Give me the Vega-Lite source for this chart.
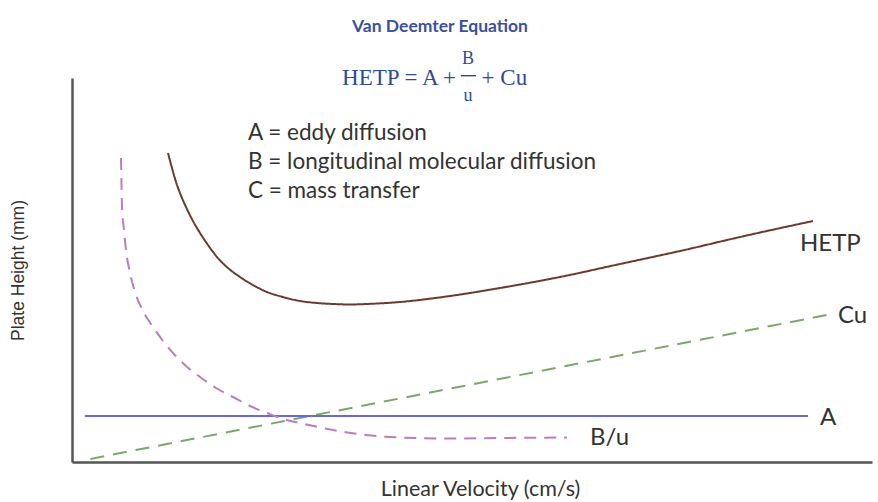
{
  "$schema": "https://vega.github.io/schema/vega-lite/v6.json",
  "width": 800,
  "height": 384,
  "autosize": "none",
  "padding": {"left": 72, "top": 78, "right": 6, "bottom": 40},
  "background": "white",
  "config": {"view": {"stroke": null}},
  "datasets": {
    "curves": [
      {"series": "HETP", "u": 12.0, "h": 80.47},
      {"series": "HETP", "u": 12.5, "h": 76.56},
      {"series": "HETP", "u": 13.0, "h": 72.92},
      {"series": "HETP", "u": 13.5, "h": 70.05},
      {"series": "HETP", "u": 14.25, "h": 66.41},
      {"series": "HETP", "u": 15.125, "h": 62.76},
      {"series": "HETP", "u": 16.0, "h": 59.64},
      {"series": "HETP", "u": 17.0, "h": 56.51},
      {"series": "HETP", "u": 18.125, "h": 53.39},
      {"series": "HETP", "u": 19.5, "h": 50.52},
      {"series": "HETP", "u": 21.0, "h": 48.18},
      {"series": "HETP", "u": 22.625, "h": 46.09},
      {"series": "HETP", "u": 24.375, "h": 44.27},
      {"series": "HETP", "u": 26.375, "h": 42.97},
      {"series": "HETP", "u": 28.5, "h": 41.93},
      {"series": "HETP", "u": 30.625, "h": 41.41},
      {"series": "HETP", "u": 32.625, "h": 41.15},
      {"series": "HETP", "u": 34.75, "h": 41.02},
      {"series": "HETP", "u": 36.875, "h": 41.15},
      {"series": "HETP", "u": 41.0, "h": 41.67},
      {"series": "HETP", "u": 47.25, "h": 43.23},
      {"series": "HETP", "u": 53.5, "h": 45.31},
      {"series": "HETP", "u": 61.0, "h": 48.18},
      {"series": "HETP", "u": 68.5, "h": 51.56},
      {"series": "HETP", "u": 76.0, "h": 54.95},
      {"series": "HETP", "u": 83.5, "h": 58.59},
      {"series": "HETP", "u": 92.625, "h": 62.76},
      {"series": "Cu", "u": 2.3, "h": 0.8},
      {"series": "Cu", "u": 94.4, "h": 38.3},
      {"series": "A", "u": 1.6, "h": 12.0},
      {"series": "A", "u": 92.0, "h": 12.0},
      {"series": "B/u", "u": 6.125, "h": 79.17},
      {"series": "B/u", "u": 6.19, "h": 72.14},
      {"series": "B/u", "u": 6.25, "h": 66.41},
      {"series": "B/u", "u": 6.5, "h": 60.42},
      {"series": "B/u", "u": 6.75, "h": 55.21},
      {"series": "B/u", "u": 7.25, "h": 49.22},
      {"series": "B/u", "u": 7.875, "h": 44.27},
      {"series": "B/u", "u": 8.625, "h": 40.36},
      {"series": "B/u", "u": 9.375, "h": 37.5},
      {"series": "B/u", "u": 10.125, "h": 35.16},
      {"series": "B/u", "u": 11.375, "h": 31.51},
      {"series": "B/u", "u": 12.625, "h": 28.39},
      {"series": "B/u", "u": 14.25, "h": 25.0},
      {"series": "B/u", "u": 16.0, "h": 22.14},
      {"series": "B/u", "u": 18.0, "h": 19.27},
      {"series": "B/u", "u": 20.125, "h": 16.93},
      {"series": "B/u", "u": 22.25, "h": 14.58},
      {"series": "B/u", "u": 24.375, "h": 12.76},
      {"series": "B/u", "u": 26.375, "h": 11.2},
      {"series": "B/u", "u": 28.5, "h": 10.16},
      {"series": "B/u", "u": 32.625, "h": 8.33},
      {"series": "B/u", "u": 36.75, "h": 7.03},
      {"series": "B/u", "u": 41.0, "h": 6.38},
      {"series": "B/u", "u": 47.25, "h": 6.12},
      {"series": "B/u", "u": 53.5, "h": 6.25},
      {"series": "B/u", "u": 61.875, "h": 6.38}
    ],
    "labels": [
      {"text": "HETP", "u": 91.0, "h": 56.8},
      {"text": "Cu", "u": 95.75, "h": 38.0},
      {"text": "A", "u": 93.5, "h": 11.5},
      {"text": "B/u", "u": 64.75, "h": 6.25}
    ],
    "notes": [
      {"text": "A = eddy diffusion", "u": 22.0, "h": 85.7},
      {"text": "B = longitudinal molecular diffusion", "u": 22.0, "h": 78.1},
      {"text": "C = mass transfer", "u": 22.0, "h": 70.6}
    ]
  },
  "layer": [
    {
      "data": {"name": "curves"},
      "mark": {"type": "line", "strokeWidth": 2, "interpolate": "monotone"},
      "encoding": {
        "x": {"field": "u", "type": "quantitative", "scale": {"domain": [0, 100]},
              "axis": {"title": "Linear Velocity (cm/s)", "labels": false, "ticks": false, "grid": false,
                       "domainColor": "#555555", "domainWidth": 2.5, "titleFont": "Lato", "titleFontSize": 21.5,
                       "titleFontWeight": "normal", "titleColor": "#333333", "titlePadding": 16, "titleX": 408}},
        "y": {"field": "h", "type": "quantitative", "scale": {"domain": [0, 100]},
              "axis": {"title": "Plate Height (mm)", "labels": false, "ticks": false, "grid": false,
                       "domainColor": "#555555", "domainWidth": 2.5, "titleFont": "Liberation Sans", "titleFontSize": 17.5,
                       "titleFontWeight": "normal", "titleColor": "#333333", "titlePadding": 45}},
        "detail": {"field": "series"},
        "color": {"field": "series", "type": "nominal", "legend": null,
                  "scale": {"domain": ["HETP", "Cu", "A", "B/u"], "range": ["#6b3a2e", "#7aa86a", "#6868e0", "#bb7dbb"]}},
        "strokeDash": {"field": "series", "type": "nominal", "legend": null,
                       "scale": {"domain": ["HETP", "Cu", "A", "B/u"], "range": [[1, 0], [14, 9], [1, 0], [12, 8]]}}
      }
    },
    {
      "data": {"name": "labels"},
      "mark": {"type": "text", "align": "left", "baseline": "middle", "font": "Lato", "fontSize": 24, "color": "#333333"},
      "encoding": {
        "x": {"field": "u", "type": "quantitative"},
        "y": {"field": "h", "type": "quantitative"},
        "text": {"field": "text"}
      }
    },
    {
      "data": {"name": "notes"},
      "mark": {"type": "text", "align": "left", "baseline": "middle", "font": "Lato", "fontSize": 22.5, "color": "#333333"},
      "encoding": {
        "x": {"field": "u", "type": "quantitative"},
        "y": {"field": "h", "type": "quantitative"},
        "text": {"field": "text"}
      }
    },
    {
      "data": {"values": [{"text": "Van Deemter Equation", "u": 46.0, "h": 113.3}]},
      "mark": {"type": "text", "align": "center", "baseline": "middle", "font": "Lato", "fontSize": 17.5, "fontWeight": "bold", "color": "#3a4f9e"},
      "encoding": {
        "x": {"field": "u", "type": "quantitative"},
        "y": {"field": "h", "type": "quantitative"},
        "text": {"field": "text"}
      }
    },
    {
      "data": {"values": [{"text": "HETP = A +", "u": 48.0, "h": 100.0}]},
      "mark": {"type": "text", "align": "right", "baseline": "middle", "font": "Liberation Serif", "fontSize": 23, "color": "#2f4a9a"},
      "encoding": {
        "x": {"field": "u", "type": "quantitative"},
        "y": {"field": "h", "type": "quantitative"},
        "text": {"field": "text"}
      }
    },
    {
      "data": {"values": [{"text": "+ Cu", "u": 51.2, "h": 100.0}]},
      "mark": {"type": "text", "align": "left", "baseline": "middle", "font": "Liberation Serif", "fontSize": 23, "color": "#2f4a9a"},
      "encoding": {
        "x": {"field": "u", "type": "quantitative"},
        "y": {"field": "h", "type": "quantitative"},
        "text": {"field": "text"}
      }
    },
    {
      "data": {"values": [
        {"text": "B", "u": 49.5, "h": 105.0},
        {"text": "u", "u": 49.5, "h": 95.4}
      ]},
      "mark": {"type": "text", "align": "center", "baseline": "middle", "font": "Liberation Serif", "fontSize": 18, "color": "#2f4a9a"},
      "encoding": {
        "x": {"field": "u", "type": "quantitative"},
        "y": {"field": "h", "type": "quantitative"},
        "text": {"field": "text"}
      }
    },
    {
      "data": {"values": [{"u1": 48.6, "u2": 50.5, "h": 100.6}]},
      "mark": {"type": "rule", "color": "#2f4a9a", "strokeWidth": 1.4},
      "encoding": {
        "x": {"field": "u1", "type": "quantitative"},
        "x2": {"field": "u2"},
        "y": {"field": "h", "type": "quantitative"}
      }
    }
  ]
}
